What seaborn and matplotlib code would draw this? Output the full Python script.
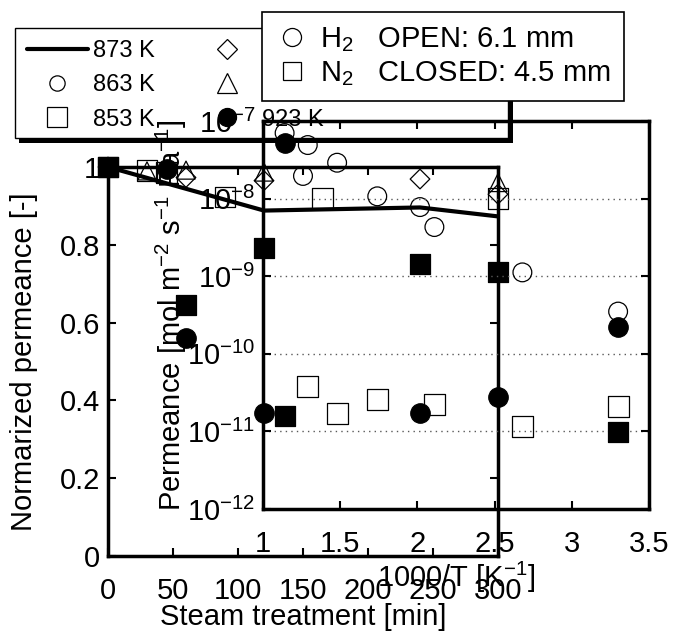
import matplotlib
matplotlib.use('Agg')
import matplotlib.pyplot as plt
import matplotlib.ticker as mticker
from matplotlib.patches import Rectangle
from matplotlib.lines import Line2D
import seaborn as sns

# --- panel A: normalized permeance vs steam treatment time [min] ---
t_873 = [0, 120, 240, 300]
v_873 = [1.0, 0.888, 0.896, 0.873]
t_863 = [0, 150, 240]
v_863 = [1.0, 0.977, 0.897]
t_853 = [0, 30, 45, 90, 165, 300]
v_853 = [1.0, 0.99, 0.985, 0.923, 0.918, 0.918]
t_diam = [0, 60, 120, 240, 300]
v_diam = [1.0, 0.973, 0.965, 0.969, 0.93]
t_tri = [0, 30, 60, 120, 300]
v_tri = [1.0, 0.99, 0.992, 0.987, 0.96]
t_923 = [0, 45, 60, 120, 240, 300]
v_923 = [1.0, 0.995, 0.56, 0.368, 0.368, 0.409]
t_fsq = [0, 60, 120, 240, 300]
v_fsq = [1.0, 0.645, 0.792, 0.751, 0.730]

# --- panel B: permeance vs 1000/T ---
x_h2_open = [1.14, 1.29, 1.48, 1.74, 2.11, 2.68, 3.30]
p_h2_open = [7.0e-8, 4.9e-8, 2.9e-8, 1.07e-8, 4.3e-9, 1.12e-9, 3.5e-10]
x_n2_open = [1.29, 1.48, 1.74, 2.11, 2.68, 3.30]
p_n2_open = [3.8e-11, 1.7e-11, 2.6e-11, 2.2e-11, 1.15e-11, 2.1e-11]
x_h2_closed = [1.14, 3.30]
p_h2_closed = [5.2e-8, 2.2e-10]
x_n2_closed = [1.14, 3.30]
p_n2_closed = [1.6e-11, 9.8e-12]

temp_labels = ['873 K', '863 K', '853 K', '883 K', '903 K', '923 K']
gas_labels = ['H$_2$   OPEN: 6.1 mm', 'N$_2$   CLOSED: 4.5 mm']

sns.set_theme(style='ticks')
plt.rcParams['font.family'] = ['Liberation Sans', 'DejaVu Sans']
plt.rcParams['mathtext.fontset'] = 'custom'
plt.rcParams['mathtext.rm'] = 'Liberation Sans'
plt.rcParams['mathtext.it'] = 'Liberation Sans:italic'
plt.rcParams['mathtext.bf'] = 'Liberation Sans:bold'
plt.rcParams['axes.unicode_minus'] = False
plt.rcParams['text.color'] = 'black'
plt.rcParams['axes.labelcolor'] = 'black'
plt.rcParams['xtick.color'] = 'black'
plt.rcParams['ytick.color'] = 'black'

W, H = 674, 634
fig = plt.figure(figsize=(W / 100, H / 100), dpi=100, facecolor='white')


def px_box(left, top, right, bottom):
    return [left / W, 1 - bottom / H, (right - left) / W, (bottom - top) / H]


def pts(ax, x, y, marker, size, filled, z=3):
    sns.scatterplot(x=x, y=y, ax=ax, marker=marker, s=size ** 2,
                    facecolor='black' if filled else 'none', edgecolor='black',
                    linewidth=0.9, zorder=z, clip_on=False, legend=False)


def style_axes(ax):
    ax.patch.set_visible(False)
    for sp in ax.spines.values():
        sp.set_visible(True)
        sp.set_linewidth(2.5)
        sp.set_color('black')
        sp.set_zorder(2.5)
    ax.tick_params(which='both', direction='in', top=True, right=True,
                   length=6, width=1.5, color='black', labelsize=21, labelcolor='black')
    ax.tick_params(axis='x', pad=15)
    ax.tick_params(axis='y', pad=5.5)


# legend frame with shadow (drawn below the axes)
fig.add_artist(Rectangle((19 / W, 1 - 143 / H), 494 / W, 110 / H, transform=fig.transFigure,
                         fc='black', ec='none', zorder=-2))
fig.add_artist(Rectangle((15 / W, 1 - 138 / H), 493 / W, 110 / H, transform=fig.transFigure,
                         fc='white', ec='black', lw=1, zorder=-1))

# panel A
ax1 = fig.add_axes(px_box(108, 167, 498, 556))
sns.lineplot(x=t_873, y=v_873, ax=ax1, color='black', linewidth=3, zorder=2, clip_on=False)
pts(ax1, t_853, v_853, 's', 15, False)
pts(ax1, t_863, v_863, 'o', 13.5, False)
pts(ax1, t_diam, v_diam, 'D', 10, False)
pts(ax1, t_tri, v_tri, '^', 13, False)
pts(ax1, t_923, v_923, 'o', 14, True, z=4)
pts(ax1, t_fsq, v_fsq, 's', 15, True, z=5)
ax1.set_xlim(0, 300)
ax1.set_ylim(0, 1)
ax1.set_xticks(range(0, 301, 50))
ax1.set_yticks([0, 0.2, 0.4, 0.6, 0.8, 1.0])
ax1.yaxis.set_major_formatter(mticker.FormatStrFormatter('%g'))
style_axes(ax1)
ax1.set_xlabel('Steam treatment [min]', fontsize=21)
ax1.set_ylabel('Normarized permeance [-]', fontsize=21)
ax1.xaxis.set_label_coords(0.5, -0.121)
ax1.yaxis.set_label_coords(-0.18, 0.5)

# panel B
ax2 = fig.add_axes(px_box(263, 121, 649, 509))
pts(ax2, x_h2_open, p_h2_open, 'o', 13.5, False)
pts(ax2, x_n2_open, p_n2_open, 's', 15, False)
pts(ax2, x_h2_closed, p_h2_closed, 'o', 14, True, z=4)
pts(ax2, x_n2_closed, p_n2_closed, 's', 15, True, z=4)
ax2.set_yscale('log')
ax2.set_xlim(1, 3.5)
ax2.set_ylim(1e-12, 1e-7)
ax2.set_xticks([1, 1.5, 2, 2.5, 3, 3.5])
ax2.xaxis.set_major_formatter(mticker.FormatStrFormatter('%g'))
ax2.yaxis.set_major_locator(mticker.LogLocator(base=10, numticks=10))
ax2.yaxis.set_major_formatter(mticker.LogFormatterMathtext())
ax2.yaxis.set_minor_locator(mticker.NullLocator())
ax2.grid(False)
ax2.yaxis.grid(True, which='major', linestyle=(0, (1, 3)), color='0.35', linewidth=1)
ax2.set_axisbelow(True)
style_axes(ax2)
ax2.set_xlabel('1000/T [K$^{-1}$]', fontsize=21)
ax2.set_ylabel('Permeance [mol m$^{-2}$ s$^{-1}$ Pa$^{-1}$]', fontsize=21)
ax2.xaxis.set_label_coords(0.5, -0.131)
ax2.yaxis.set_label_coords(-0.192, 0.5)

# temperature legend (frame drawn separately above)
mk = dict(ls='', mec='black', mew=0.9)
temp_handles = [
    Line2D([], [], color='black', lw=3),
    Line2D([], [], marker='o', ms=11, mfc='none', **mk),
    Line2D([], [], marker='s', ms=14, mfc='none', **mk),
    Line2D([], [], marker='D', ms=10, mfc='none', **mk),
    Line2D([], [], marker='^', ms=14, mfc='none', **mk),
    Line2D([], [], marker='o', ms=13, mfc='black', **mk),
]
leg1 = fig.legend(temp_handles, temp_labels, ncol=2, loc='upper left',
                  bbox_to_anchor=(27 / W, 1 - 40 / H), frameon=False, fontsize=17,
                  handlelength=2.58, handletextpad=0.21, columnspacing=1.76,
                  labelspacing=0.52, borderpad=0, borderaxespad=0)
leg1.set_zorder(5)

gas_handles = [
    Line2D([], [], marker='o', ms=13, mfc='none', **mk),
    Line2D([], [], marker='s', ms=13, mfc='none', **mk),
]
leg2 = fig.legend(gas_handles, gas_labels, loc='upper left',
                  bbox_to_anchor=(262 / W, 1 - 12 / H), frameon=True, fancybox=False,
                  shadow=False, edgecolor='black', facecolor='white', framealpha=1,
                  fontsize=21, handlelength=1.17, handletextpad=0.35, borderpad=0.46,
                  labelspacing=0.165, borderaxespad=0)
leg2.get_frame().set_linewidth(1.2)
leg2.set_zorder(6)

fig.savefig('out.png', dpi=100)
